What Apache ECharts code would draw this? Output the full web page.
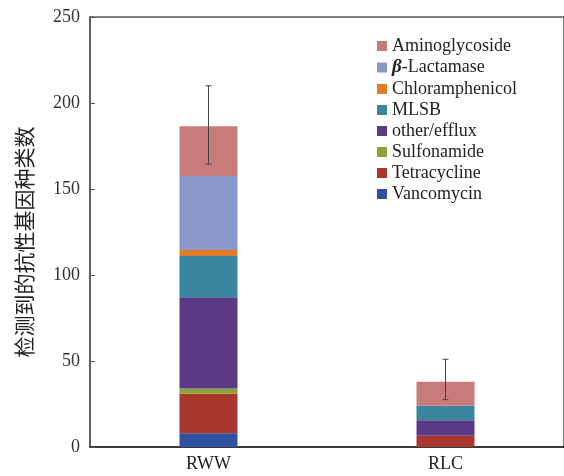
<!DOCTYPE html>
<html><head><meta charset="utf-8">
<script src="https://cdn.jsdelivr.net/npm/echarts@6/dist/echarts.min.js"></script>
<style>html,body{margin:0;padding:0;background:#fff}#c{width:564px;height:476px}</style>
</head><body><div id="c"></div>
<script>
var categories = ['RWW', 'RLC'];
var seriesNames = ['Vancomycin', 'Tetracycline', 'Sulfonamide', 'other/efflux', 'MLSB', 'Chloramphenicol', 'β-Lactamase', 'Aminoglycoside'];
var vancomycin = [8, 0];
var tetracycline = [23, 6.5];
var sulfonamide = [3, 0];
var otherEfflux = [53, 9];
var mlsb = [24, 8.5];
var chloramphenicol = [3.5, 0];
var betaLactamase = [43, 0];
var aminoglycoside = [29, 14];
var errLow = [164.5, 27.5];
var errHigh = [210, 51];
var yTicks = [0, 50, 100, 150, 200, 250];

var colors = ['#2F52A0', '#A8372D', '#8CA23A', '#5B3A85', '#3A869E', '#E07B2A', '#8A97CB', '#C87B7B'];
var values = [vancomycin, tetracycline, sulfonamide, otherEfflux, mlsb, chloramphenicol, betaLactamase, aminoglycoside];

var chart = echarts.init(document.getElementById('c'));
var series = seriesNames.map(function (n, i) {
  return { name: n, type: 'bar', stack: 's', barWidth: 58, data: values[i], itemStyle: { color: colors[i] } };
});
series.push({
  type: 'custom', name: 'err', z: 10,
  data: categories.map(function (c, i) { return [i, errLow[i], errHigh[i]]; }),
  renderItem: function (params, api) {
    var lo = api.coord([api.value(0), api.value(1)]);
    var hi = api.coord([api.value(0), api.value(2)]);
    var s = { stroke: '#444', lineWidth: 1 };
    return { type: 'group', children: [
      { type: 'line', shape: { x1: hi[0], y1: hi[1], x2: lo[0], y2: lo[1] }, style: s },
      { type: 'line', shape: { x1: hi[0] - 3, y1: hi[1], x2: hi[0] + 3, y2: hi[1] }, style: s },
      { type: 'line', shape: { x1: lo[0] - 3, y1: lo[1], x2: lo[0] + 3, y2: lo[1] }, style: s }
    ]};
  }
});

chart.setOption({
  animation: false,
  textStyle: { fontFamily: 'Liberation Serif' },
  grid: { left: 90, right: -3, top: 17, bottom: 29, show: true, borderColor: '#555', borderWidth: 1.5 },
  legend: {
    data: seriesNames.slice().reverse(),
    orient: 'vertical', left: 372, top: 32,
    itemWidth: 10, itemHeight: 10, itemGap: 3, icon: 'rect',
    textStyle: { fontFamily: 'Liberation Serif', fontSize: 18, color: '#222',
      rich: { b: { fontFamily: 'Liberation Serif', fontStyle: 'italic', fontWeight: 'bold', fontSize: 19, color: '#222' } } },
    formatter: function (n) { return n === 'β-Lactamase' ? '{b|β}-Lactamase' : n; }
  },
  xAxis: {
    type: 'category', data: categories,
    axisLine: { lineStyle: { color: '#222', width: 1.5 } },
    axisTick: { show: false },
    axisLabel: { fontFamily: 'Liberation Serif', fontSize: 18, color: '#222', margin: 8 }
  },
  yAxis: {
    type: 'value', min: yTicks[0], max: yTicks[yTicks.length - 1], interval: 50,
    name: '检测到的抗性基因种类数', nameLocation: 'middle', nameGap: 55,
    nameTextStyle: { fontFamily: 'Noto Sans CJK SC', fontSize: 21, color: '#222', padding: [0, 20, 0, 0] },
    axisLine: { show: true, lineStyle: { color: '#555', width: 1.5 } },
    axisTick: { show: true, inside: true, length: 5, lineStyle: { color: '#555' } },
    splitLine: { show: false },
    axisLabel: { fontFamily: 'Liberation Serif', fontSize: 18, color: '#333', margin: 10 }
  },
  series: series
});
</script></body></html>
